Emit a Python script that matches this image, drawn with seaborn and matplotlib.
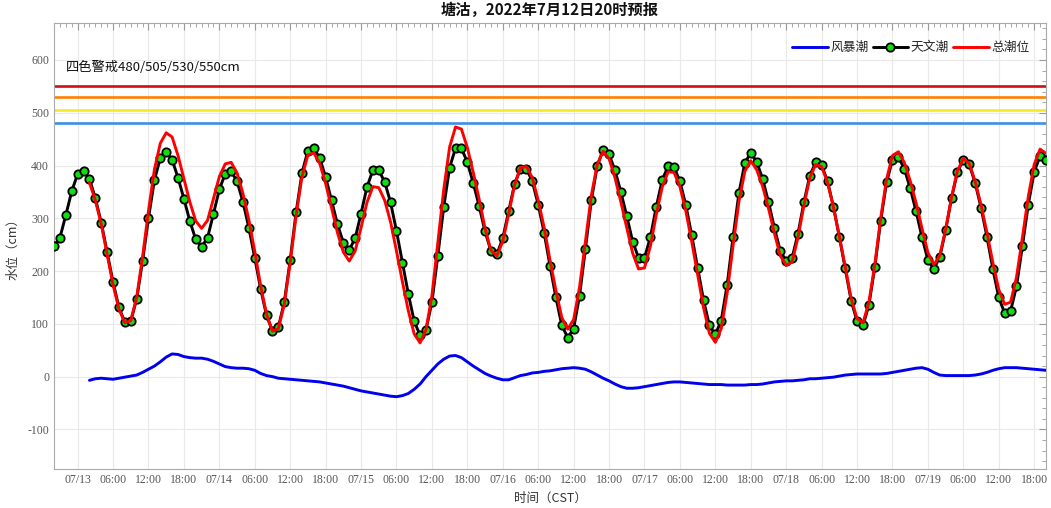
import pandas as pd
import numpy as np
import matplotlib
matplotlib.use('Agg')
import matplotlib.pyplot as plt
import matplotlib.dates as mdates
from matplotlib.ticker import MultipleLocator, FuncFormatter
import seaborn as sns

# 天文潮，逐时，从 2022-07-12 20:00 开始
astro_start = '2022-07-12 20:00'
astro = [248, 263, 306, 351, 384, 390, 375, 338, 292, 236, 179, 131, 103, 105, 147, 219,
         300, 372, 414, 425, 411, 377, 337, 295, 260, 246, 263, 308, 355, 384, 389, 370,
         331, 282, 225, 166, 116, 86, 94, 141, 221, 311, 386, 428, 433, 414, 378, 334,
         289, 254, 240, 262, 309, 359, 391, 391, 369, 330, 276, 216, 157, 105, 78, 89,
         141, 229, 321, 396, 433, 433, 406, 367, 323, 275, 238, 232, 262, 314, 365, 394,
         394, 370, 326, 273, 210, 150, 97, 74, 91, 153, 242, 334, 399, 430, 421, 391,
         350, 304, 256, 225, 225, 264, 322, 372, 399, 397, 370, 325, 268, 206, 145, 97,
         80, 106, 174, 264, 348, 405, 424, 407, 375, 331, 282, 238, 219, 225, 271, 330,
         381, 406, 401, 370, 322, 265, 205, 144, 105, 97, 135, 207, 295, 368, 411, 416,
         394, 357, 313, 264, 221, 204, 226, 277, 338, 388, 411, 402, 367, 320, 265, 204,
         150, 120, 124, 171, 247, 326, 388, 418, 411]

# 风暴潮 / 总潮位，逐时，从 2022-07-13 02:00 开始
surge_start = '2022-07-13 02:00'
surge = [-7, -4, -3, -4, -5, -3, -1, 1, 3, 8, 14, 20, 28, 37, 43, 42,
         38, 36, 35, 35, 33, 29, 24, 19, 17, 16, 16, 15, 12, 6, 2, 0,
         -3, -4, -5, -6, -7, -8, -9, -10, -12, -14, -16, -18, -21, -24, -27, -29,
         -31, -33, -35, -37, -38, -36, -32, -24, -14, 0, 12, 24, 33, 39, 40, 36,
         28, 20, 13, 6, 1, -3, -6, -6, -2, 2, 4, 7, 8, 10, 11, 13,
         15, 16, 17, 16, 14, 9, 3, -3, -8, -14, -19, -22, -22, -21, -19, -17,
         -15, -13, -11, -10, -10, -11, -12, -13, -14, -15, -15, -15, -16, -16, -16, -16,
         -15, -15, -14, -12, -10, -9, -8, -8, -7, -6, -4, -4, -3, -2, -1, 1,
         3, 4, 5, 5, 5, 5, 5, 6, 8, 10, 12, 14, 16, 17, 14, 8,
         3, 2, 2, 2, 2, 2, 3, 5, 8, 12, 15, 17, 17, 17, 16, 15,
         14, 13, 12]
total = [368, 334, 289, 232, 174, 128, 102, 106, 150, 227, 314, 392, 442, 462, 454, 419,
         375, 331, 295, 281, 296, 337, 379, 403, 406, 386, 347, 297, 237, 172, 118, 86,
         91, 137, 216, 305, 379, 420, 424, 404, 366, 320, 273, 236, 219, 238, 282, 330,
         360, 358, 334, 293, 238, 180, 125, 81, 64, 89, 153, 253, 354, 435, 473, 469,
         434, 387, 336, 281, 239, 229, 256, 308, 363, 396, 398, 377, 334, 283, 221, 163,
         112, 90, 108, 169, 256, 343, 402, 427, 413, 377, 331, 282, 234, 204, 206, 247,
         307, 359, 388, 387, 360, 314, 256, 193, 131, 82, 65, 91, 158, 248, 332, 389,
         409, 392, 361, 319, 272, 229, 211, 217, 264, 324, 377, 402, 398, 368, 321, 266,
         208, 148, 110, 102, 140, 212, 300, 374, 419, 426, 406, 371, 329, 281, 235, 212,
         229, 279, 340, 390, 413, 404, 370, 325, 273, 216, 165, 137, 141, 188, 263, 341,
         402, 431, 423]

warn_levels = [480, 505, 530, 550]
warn_colors = ['#3a8fe8', '#f7e92a', '#ff7f00', '#d01010']

df_astro = pd.DataFrame({'time': pd.date_range(astro_start, periods=len(astro), freq='h'),
                         'level': astro})
df_surge = pd.DataFrame({'time': pd.date_range(surge_start, periods=len(surge), freq='h'),
                         'surge': surge, 'total': total})

sns.set_theme(style='white')
plt.rcParams['font.family'] = ['Noto Sans CJK SC', 'DejaVu Sans']
plt.rcParams['axes.unicode_minus'] = False

fig = plt.figure(figsize=(10.51, 5.08), dpi=100)
ax = fig.add_axes([54 / 1051, 39 / 508, 992 / 1051, 446 / 508])

for lvl, c in zip(warn_levels, warn_colors):
    ax.axhline(lvl, color=c, lw=1.9, zorder=2)

sns.lineplot(data=df_surge, x='time', y='surge', ax=ax, color='#0000ee', lw=2.1,
             label='风暴潮', zorder=3)
sns.lineplot(data=df_astro, x='time', y='level', ax=ax, color='black', lw=2.1,
             marker='o', markersize=6, markerfacecolor='#11dd11', markeredgecolor='black',
             markeredgewidth=1.3, label='天文潮', zorder=4)
sns.lineplot(data=df_surge, x='time', y='total', ax=ax, color='#ff0000', lw=2.1,
             label='总潮位', zorder=5)

ax.set_xlim(df_astro['time'].iloc[0], df_astro['time'].iloc[-1])
ax.set_ylim(-175, 670)

ax.xaxis.set_major_locator(mdates.HourLocator(byhour=[0, 6, 12, 18]))
ax.xaxis.set_minor_locator(mdates.HourLocator())


def fmt_time(x, pos):
    d = mdates.num2date(x)
    return d.strftime('%m/%d') if d.hour == 0 else d.strftime('%H:%M')


ax.xaxis.set_major_formatter(FuncFormatter(fmt_time))
ax.yaxis.set_major_locator(MultipleLocator(100))
ax.yaxis.set_minor_locator(MultipleLocator(20))

ax.grid(True, which='major', color='#e9e9e9', lw=0.8, zorder=0)
ax.tick_params(which='both', direction='in', top=True, right=True, colors='#999999',
               labelcolor='#555555', labelsize=8.5)
ax.tick_params(which='major', length=5, width=0.8)
ax.tick_params(which='minor', length=3, width=0.6)
for lab in ax.get_xticklabels() + ax.get_yticklabels():
    lab.set_family('Liberation Serif')
for sp in ax.spines.values():
    sp.set_color('#aaaaaa')
    sp.set_linewidth(0.8)

ax.set_title('塘沽，2022年7月12日20时预报', fontsize=11, color='#111111', pad=6,
             fontweight='bold')
ax.set_xlabel('时间（CST）', fontsize=9, color='#333333', labelpad=4)
ax.set_ylabel('水位（cm）', fontsize=9, color='#333333', labelpad=6)

ax.text(0.012, 0.9, '四色警戒480/505/530/550cm', transform=ax.transAxes, fontsize=9.5,
        color='#111111', va='center', ha='left')

ax.legend(loc='upper right', ncol=3, frameon=False, fontsize=9.2, handlelength=2.8,
          handletextpad=0.2, columnspacing=0.3, bbox_to_anchor=(0.995, 0.985))

fig.savefig('out.png', dpi=100)
